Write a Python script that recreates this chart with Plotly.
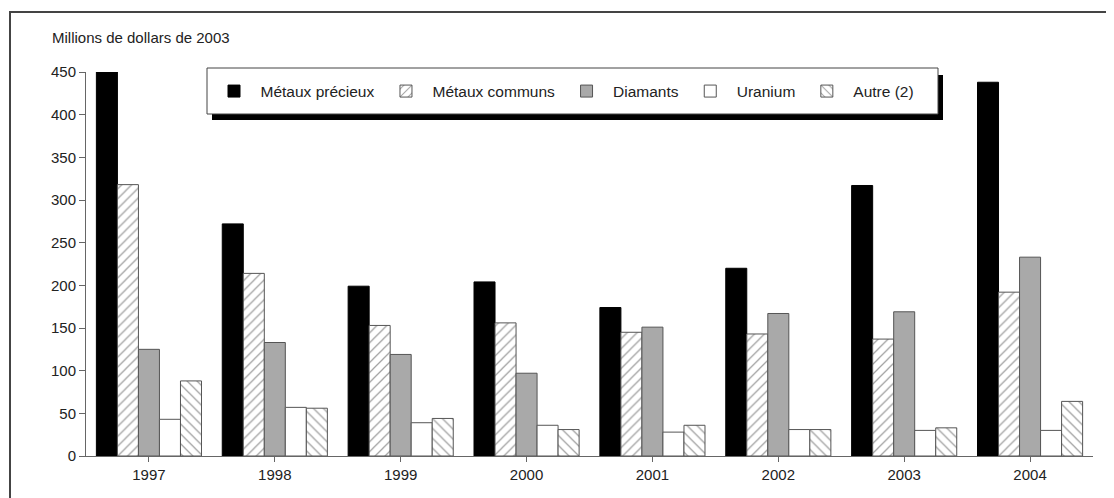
import plotly.graph_objects as go

years = ["1997", "1998", "1999", "2000", "2001", "2002", "2003", "2004"]
metaux_precieux = [450, 272, 199, 204, 174, 220, 317, 438]
metaux_communs = [318, 214, 153, 156, 145, 143, 137, 192]
diamants = [125, 133, 119, 97, 151, 167, 169, 233]
uranium = [43, 57, 39, 36, 28, 31, 30, 30]
autre = [88, 56, 44, 31, 36, 31, 33, 64]
y_ticks = [0, 50, 100, 150, 200, 250, 300, 350, 400, 450]

FONT = "Liberation Sans, Arial, sans-serif"
OFF = 8  # page body margin
W, H = 1114 - OFF, 498 - OFF
# plot area in page pixels
PX0, PX1, PY0, PY1 = 86, 1093, 72, 456
L, T = PX0 - OFF, PY0 - OFF
R, B = (OFF + W) - PX1, (OFF + H) - PY1
PW, PH = PX1 - PX0, PY1 - PY0


def px(x):
    return (x - PX0) / PW


def py(y):
    return (PY1 - y) / PH


fig = go.Figure()
edge = "#555555"
fig.add_bar(x=years, y=metaux_precieux, name="Métaux précieux",
            marker=dict(color="#000000", line=dict(color="#000000", width=1)))
fig.add_bar(x=years, y=metaux_communs, name="Métaux communs",
            marker=dict(color="white", line=dict(color=edge, width=1),
                        pattern=dict(shape="/", fgcolor="#444444", bgcolor="white",
                                     size=7, solidity=0.18)))
fig.add_bar(x=years, y=diamants, name="Diamants",
            marker=dict(color="#a9a9a9", line=dict(color=edge, width=1)))
fig.add_bar(x=years, y=uranium, name="Uranium",
            marker=dict(color="white", line=dict(color=edge, width=1)))
fig.add_bar(x=years, y=autre, name="Autre (2)",
            marker=dict(color="white", line=dict(color=edge, width=1),
                        pattern=dict(shape="\\", fgcolor="#444444", bgcolor="white",
                                     size=7, solidity=0.18)))

shapes = [
    # outer frame
    dict(type="rect", xref="paper", yref="paper", x0=px(10), x1=px(1130),
         y0=py(530), y1=py(12), line=dict(color="#444444", width=2),
         fillcolor="rgba(0,0,0,0)", layer="below"),
    # legend shadow
    dict(type="rect", xref="paper", yref="paper", x0=px(212), x1=px(943),
         y0=py(120), y1=py(75), line=dict(width=0), fillcolor="#000000", layer="above"),
    # legend box
    dict(type="rect", xref="paper", yref="paper", x0=px(207), x1=px(938),
         y0=py(114), y1=py(68), line=dict(color="#444444", width=1),
         fillcolor="white", layer="above"),
]

annotations = [
    dict(text="Millions de dollars de 2003", xref="paper", yref="paper",
         x=px(50), y=py(37), xanchor="left", yanchor="middle", showarrow=False,
         font=dict(family=FONT, size=15, color="#222222")),
]

fig.update_layout(
    width=W, height=H,
    margin=dict(l=L, r=R, t=T, b=B, autoexpand=False),
    paper_bgcolor="white", plot_bgcolor="white",
    barmode="group", bargap=0.165, bargroupgap=0,
    font=dict(family=FONT, size=15, color="#222222"),
    showlegend=True,
    legend=dict(orientation="h", x=px(207.5), y=py(91.5), xanchor="left", yanchor="middle",
                bgcolor="rgba(0,0,0,0)", borderwidth=0, itemwidth=43,
                font=dict(family=FONT, size=15.5, color="#222222")),
    shapes=shapes, annotations=annotations,
    xaxis=dict(type="category", range=[-0.5, 7.5], showline=True, linecolor="#666666",
               linewidth=1, ticks="outside", ticklen=5, tickcolor="#666666",
               showgrid=False, zeroline=False, tickfont=dict(size=15, color="#222222")),
    yaxis=dict(range=[0, 450], tickvals=y_ticks, showline=True, linecolor="#666666",
               linewidth=1, ticks="outside", ticklen=6, tickcolor="#666666",
               showgrid=False, zeroline=False, tickfont=dict(size=15, color="#222222")),
)

fig.write_html("out.html")
